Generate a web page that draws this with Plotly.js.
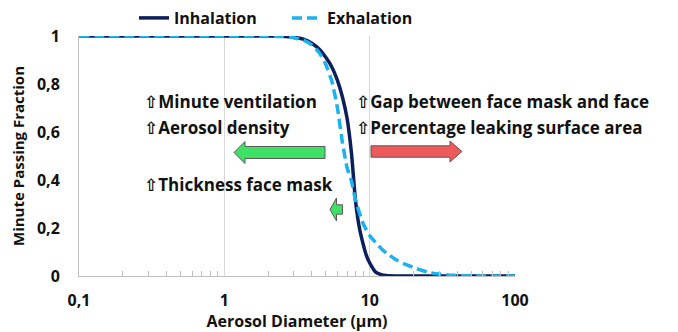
<!DOCTYPE html>
<html>
<head>
<meta charset="utf-8">
<script src="https://cdn.plot.ly/plotly-3.0.1.min.js"></script>
<style>html,body{margin:0;padding:0;background:#fff;}#chart{width:678px;height:332px;}</style>
</head>
<body>
<div id="chart"></div>
<script>
// ---- data ----
const inhalationX = [0.1, 0.5, 1, 2, 2.5, 3, 3.5, 4, 4.5, 5, 5.5, 6, 6.5, 7, 7.5, 8, 8.5, 9, 9.5, 10, 11, 12, 13, 15, 20, 50, 100];
const inhalationY = [1, 1, 1, 1, 0.999, 0.995, 0.987, 0.97, 0.945, 0.91, 0.87, 0.815, 0.745, 0.655, 0.51, 0.31, 0.2, 0.135, 0.085, 0.055, 0.016, 0.006, 0.002, 0, 0, 0, 0];
const exhalationX = [0.1, 1, 2, 2.5, 3, 3.5, 4, 4.5, 5, 5.5, 6, 6.5, 7, 7.5, 8, 9, 10, 11, 12, 13, 15, 18, 20, 25, 30, 35, 40, 50, 100];
const exhalationY = [1, 1, 1, 0.998, 0.993, 0.983, 0.963, 0.93, 0.88, 0.81, 0.7, 0.555, 0.45, 0.395, 0.315, 0.22, 0.168, 0.14, 0.115, 0.096, 0.07, 0.046, 0.036, 0.016, 0.008, 0.004, 0.002, 0, 0];
const seriesNames = ["Inhalation", "Exhalation"];
const xTickVals = [0.1, 1, 10, 100];
const xTickText = ["0,1", "1", "10", "100"];
const yTickVals = [0, 0.2, 0.4, 0.6, 0.8, 1];
const yTickText = ["0", "0,2", "0,4", "0,6", "0,8", "1"];
const leftLabels = ["⇧Minute ventilation", "⇧Aerosol density", "⇧Thickness face mask"];
const rightLabels = ["⇧Gap between face mask and face", "⇧Percentage leaking surface area"];
const xTitle = "Aerosol Diameter (µm)";
const yTitle = "Minute Passing Fraction";

// ---- layout helpers ----
const W = 678, H = 332;
const M = {l: 79, r: 163, t: 36, b: 56, autoexpand: false};
const PW = W - M.l - M.r, PH = H - M.t - M.b;
const px = x => (x - M.l) / PW;
const py = y => (H - M.b - y) / PH;
function arrowPath(tipX, tipY, headBaseX, headHalf, bodyHalf, tailX) {
  const pts = [
    [tipX, tipY],
    [headBaseX, tipY - headHalf],
    [headBaseX, tipY - bodyHalf],
    [tailX, tipY - bodyHalf],
    [tailX, tipY + bodyHalf],
    [headBaseX, tipY + bodyHalf],
    [headBaseX, tipY + headHalf]
  ];
  return 'M' + pts.map(p => px(p[0]).toFixed(4) + ',' + py(p[1]).toFixed(4)).join(' L') + ' Z';
}

const FONT = '"Open Sans", "DejaVu Sans", sans-serif';
const minorVals = [];
[0.1, 1, 10].forEach(d => { for (let k = 2; k <= 9; k++) minorVals.push(d * k); });

const traces = [
  {x: inhalationX, y: inhalationY, name: seriesNames[0], type: 'scatter', mode: 'lines',
   line: {color: '#0a1f5c', width: 3.5, shape: 'spline', smoothing: 0.5}},
  {x: exhalationX, y: exhalationY, name: seriesNames[1], type: 'scatter', mode: 'lines',
   line: {color: '#1ab2ef', width: 3.5, dash: '10px,5px', shape: 'spline', smoothing: 0.5}}
];

const annFont = {family: FONT, size: 17, color: '#111', weight: 700};
const annotations = [];
const leftY = [101, 127, 184];
leftLabels.forEach((t, i) => annotations.push({xref: 'paper', yref: 'paper', x: px(142), y: py(leftY[i]),
  xanchor: 'left', yanchor: 'middle', text: t, showarrow: false, font: annFont}));
const rightY = [101, 127];
rightLabels.forEach((t, i) => annotations.push({xref: 'paper', yref: 'paper', x: px(354), y: py(rightY[i]),
  xanchor: 'left', yanchor: 'middle', text: t, showarrow: false, font: annFont}));

const shapes = [
  {type: 'path', xref: 'paper', yref: 'paper', path: arrowPath(234, 152.5, 245, 11, 6, 325),
   fillcolor: '#3ee065', line: {color: '#5a5a5a', width: 1}},
  {type: 'path', xref: 'paper', yref: 'paper', path: arrowPath(462, 151.5, 450, 10.5, 5.7, 371),
   fillcolor: '#ee5a5a', line: {color: '#5a5a5a', width: 1}},
  {type: 'path', xref: 'paper', yref: 'paper', path: arrowPath(330, 209.5, 336.5, 11.5, 4.7, 342.5),
   fillcolor: '#3ee065', line: {color: '#5a5a5a', width: 1}}
];

const layout = {
  width: W, height: H,
  margin: M,
  paper_bgcolor: '#fff', plot_bgcolor: '#fff',
  font: {family: FONT, size: 15, color: '#111', weight: 700},
  showlegend: true,
  legend: {orientation: 'h', x: px(134), xanchor: 'left', y: py(18), yanchor: 'middle',
           font: {family: FONT, size: 16, color: '#111', weight: 700},
           entrywidth: 108, entrywidthmode: 'pixels', bgcolor: 'rgba(0,0,0,0)'},
  xaxis: {type: 'log', range: [-1, 2], tickvals: xTickVals, ticktext: xTickText,
          showgrid: true, gridcolor: '#d9d9d9', gridwidth: 1,
          showline: true, linecolor: '#bfbfbf', linewidth: 1,
          ticks: '', ticklabelstandoff: 10,
          minor: {tickvals: minorVals, ticks: 'inside', ticklen: 5, tickcolor: '#bfbfbf', showgrid: false},
          title: {text: xTitle, font: {family: FONT, size: 16, color: '#111', weight: 700}, standoff: 2},
          tickfont: {family: FONT, size: 16, color: '#111', weight: 700}, zeroline: false},
  yaxis: {range: [0, 1], tickvals: yTickVals, ticktext: yTickText,
          showgrid: false, zeroline: false,
          showline: true, linecolor: '#bfbfbf', linewidth: 1, ticks: '', ticklabelstandoff: 15,
          title: {text: yTitle, font: {family: FONT, size: 15, color: '#111', weight: 700}, standoff: 8},
          tickfont: {family: FONT, size: 16, color: '#111', weight: 700}},
  annotations: annotations,
  shapes: shapes
};

Plotly.newPlot('chart', traces, layout, {displayModeBar: false, staticPlot: true});
</script>
</body>
</html>
